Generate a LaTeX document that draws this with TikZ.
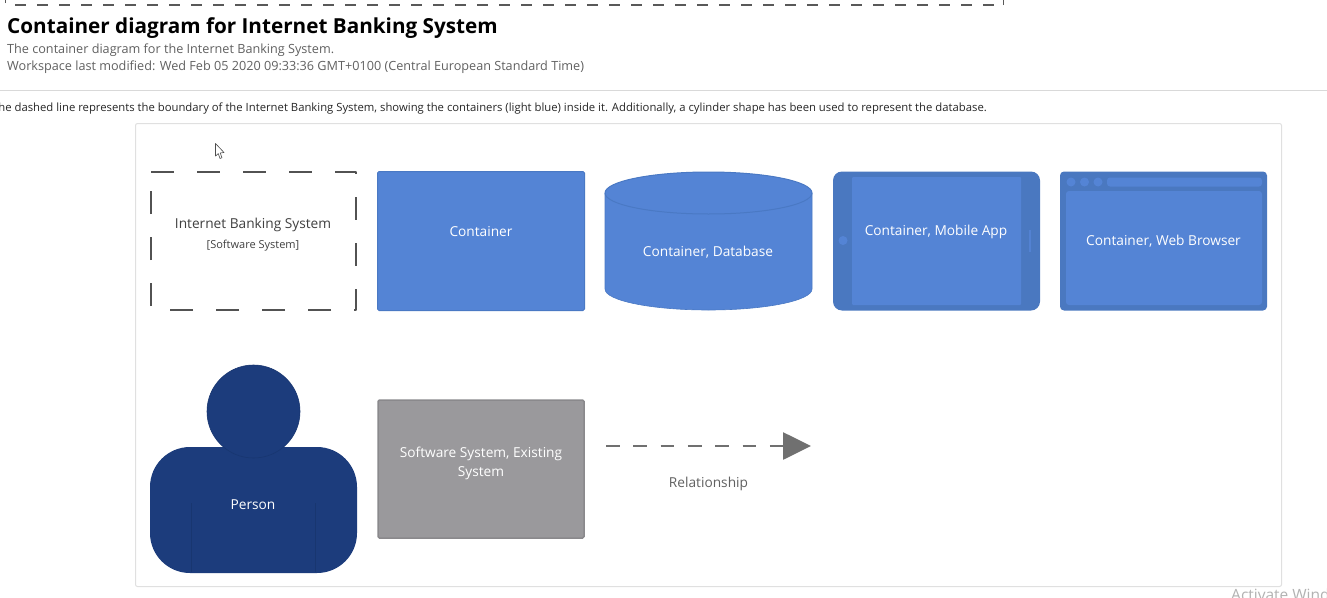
\documentclass[tikz,border=0pt]{standalone}
\usepackage{fontspec}
\setmainfont{Open Sans}
\usetikzlibrary{arrows.meta}
\definecolor{contblue}{HTML}{5484D5}
\definecolor{contedge}{HTML}{4A79C4}
\definecolor{contdark}{HTML}{4A78C0}
\definecolor{personblue}{HTML}{1C3C7C}
\definecolor{persondark}{HTML}{183670}
\definecolor{sysgray}{HTML}{9A999C}
\definecolor{sysedge}{HTML}{8A898C}
\tikzset{
  lab/.style={font=\fontsize{13.7}{19}\selectfont, text=white, align=center, inner sep=0pt},
  block/.style={draw=contedge, line width=1pt, fill=contblue, rounded corners=1.5pt, inner sep=0pt},
  header/.style={anchor=west, inner sep=0pt, text=#1},
  softline/.style={draw=#1, line width=1pt},
  dark/.style={fill=contdark, draw=none},
  light/.style={fill=contblue, draw=none}
}
\begin{document}
\begin{tikzpicture}[x=1pt,y=-1pt]
\useasboundingbox (0,0) rectangle (1327,597);
\clip (0,0) rectangle (1327,597);
\fill[white] (0,0) rectangle (1327,597);
% top boundary remnant
\draw[line width=2pt,draw=black!65,dash pattern=on 11pt off 11pt] (15,4.5) -- (1003,4.5);
\draw[line width=1pt,draw=black!65] (1003.5,5) -- (1003.5,0) (5.5,3) -- (5.5,0);
% header
\node[header=black, font=\fontsize{20.7}{26}\bfseries\selectfont] (title) at (7,28) {Container diagram for Internet Banking System};
\node[header={black!62}, font=\fontsize{12.65}{16}\selectfont] (sub1) at (7,50.5) {The container diagram for the Internet Banking System.};
\node[header={black!62}, font=\fontsize{12.65}{16}\selectfont] (sub2) at (7,67.5) {Workspace last modified: Wed Feb 05 2020 09:33:36 GMT+0100 (Central European Standard Time)};
\draw[softline={black!15}] (0,90) -- (1327,90);
\node[anchor=east, inner sep=0pt, text=black!85, font=\fontsize{11.3}{14}\selectfont] (desc) at (987,108.5) {The dashed line represents the boundary of the Internet Banking System, showing the containers (light blue) inside it. Additionally, a cylinder shape has been used to represent the database.};
% frame
\draw[draw=black!12, line width=1pt, rounded corners=2pt] (135.5,123.5) rectangle (1281.5,586.5);
% cursor
\draw[draw=black!70, line width=.6pt, fill=white, line join=round] (215.5,143.5) -- (215.5,156) -- (218.3,153.6) -- (220,158.5) -- (222,157.7) -- (220.2,153) -- (224,152.5) -- cycle;
% software-system boundary
\draw[draw=black!68, line width=2pt, dash pattern=on 23pt off 23pt, line join=round] (151,172) -- (356,172) -- (356,310) -- (151,310) -- (151,172);
\node[lab, text=black!75] (ibs) at (253,225) {Internet Banking System};
\node[lab, text=black!75, font=\fontsize{11}{14}\selectfont] (ibst) at (253,245.5) {[Software System]};
% container
\node[block, minimum width=207pt, minimum height=139pt] (cont) at (481,241) {};
\node[lab] (contl) at (481,231.5) {Container};
% database
\fill[contblue] (605,193) arc[start angle=180,end angle=360,x radius=103.5,y radius=21] -- (812,289) arc[start angle=0,end angle=180,x radius=103.5,y radius=21] -- cycle;
\draw[contedge, line width=1pt] (605,193) arc[start angle=180,end angle=540,x radius=103.5,y radius=21];
\draw[contedge, line width=.6pt] (605,193) -- (605,289) arc[start angle=180,end angle=0,x radius=103.5,y radius=21] -- (812,193);
\node[lab] (dbl) at (708,252.5) {Container, Database};
% mobile
\node[dark, rounded corners=9pt, minimum width=207pt, minimum height=139pt, inner sep=0pt] (mob) at (936.5,241) {};
\node[light, rounded corners=1pt, minimum width=169pt, minimum height=128pt, inner sep=0pt] (mobs) at (936.5,241) {};
\fill[contblue] (843,240.5) circle (4.5);
\fill[contblue!85!contdark] (1029,230) rectangle (1031,252);
\node[lab] (mobl) at (936,232) {Container, Mobile App};
% browser
\node[dark, rounded corners=4pt, minimum width=207pt, minimum height=139pt, inner sep=0pt] (web) at (1163.5,241) {};
\node[light, rounded corners=3pt, minimum width=196pt, minimum height=114pt, inner sep=0pt] (webs) at (1164,248) {};
\node[light, rounded corners=3pt, minimum width=155pt, minimum height=9pt, inner sep=0pt] (webb) at (1184.5,182) {};
\fill[contblue] (1071,182) circle (4.5) (1084.5,182) circle (4.5) (1098,182) circle (4.5);
\node[lab] (webl) at (1163.5,241) {Container, Web Browser};
% person
\node[fill=personblue, rounded corners=40pt, minimum width=207pt, minimum height=126pt, inner sep=0pt] (pbody) at (253.5,510) {};
\draw[persondark, line width=.8pt] (191.5,503) -- (191.5,572) (315.5,503) -- (315.5,572);
\node[circle, fill=personblue, draw=persondark, line width=.6pt, minimum size=93pt, inner sep=0pt] (phead) at (253.5,411.5) {};
\node[lab] (pl) at (253,505) {Person};
% existing system
\node[block, draw=sysedge, line width=1.5pt, fill=sysgray, minimum width=206pt, minimum height=138pt] (sys) at (481,469) {};
\node[lab] (sysl) at (481,463.5) {Software System, Existing\\System};
% relationship
\coordinate (rela) at (606,446);
\coordinate (relb) at (811,446);
\draw[draw=black!56, line width=2.7pt, dash pattern=on 13.7pt off 13.6pt, -{Triangle[length=28pt,width=27pt]}] (rela) -- (relb);
\node[lab, text=black!62] (rell) at (708.5,484) {Relationship};
% watermark
\node[anchor=west, inner sep=0pt, text=black!30, font=\fontsize{15.5}{16}\selectfont] (wm) at (1231,595) {Activate Windows};
\end{tikzpicture}
\end{document}
